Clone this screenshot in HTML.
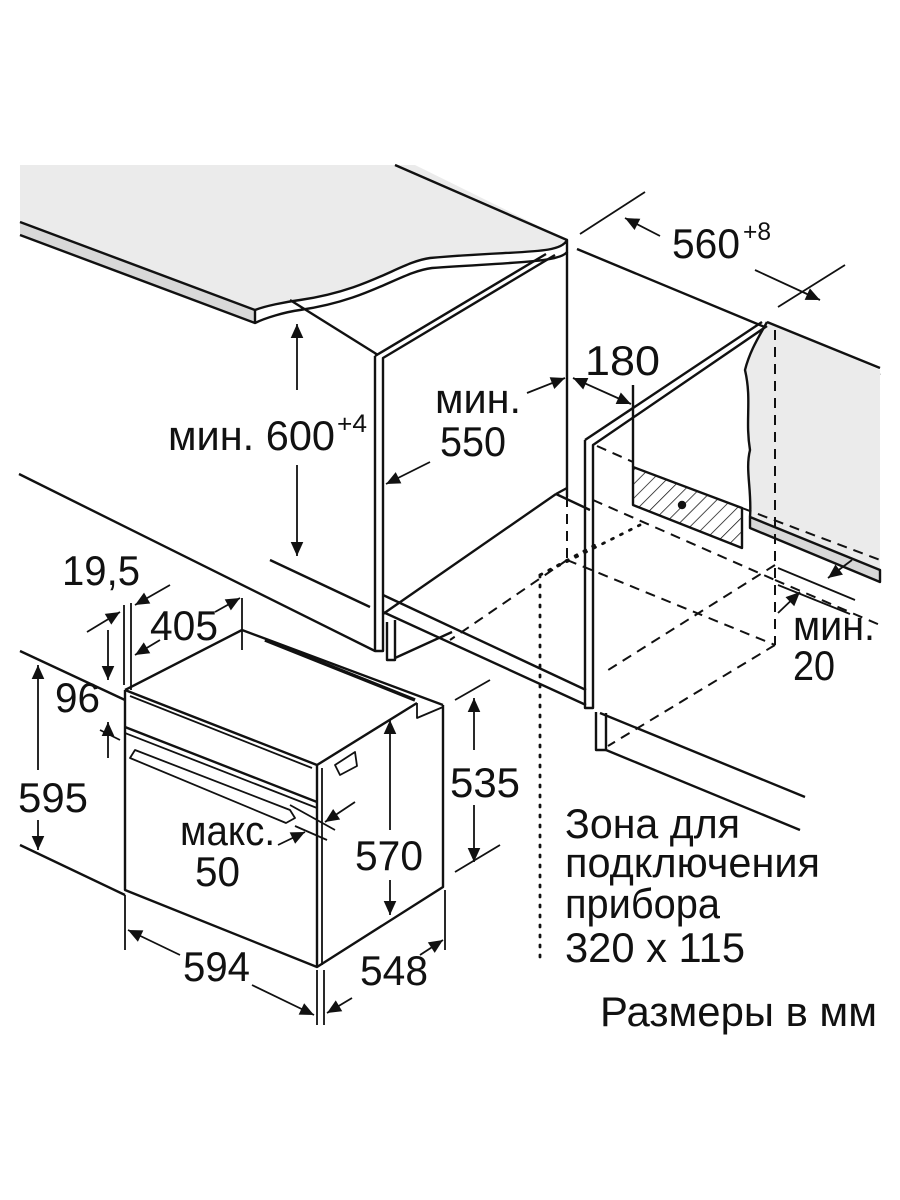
<!DOCTYPE html>
<html><head><meta charset="utf-8"><style>
html,body{margin:0;padding:0;background:#fff;}
svg{display:block;}
text{font-family:"Liberation Sans Narrow","Liberation Sans",sans-serif;fill:#111;}
</style></head><body>
<svg width="900" height="1200" viewBox="0 0 900 1200" xmlns="http://www.w3.org/2000/svg">
<defs>
<marker id="b" viewBox="0 0 10 10" refX="10" refY="5" markerWidth="20" markerHeight="14" orient="auto-start-reverse" markerUnits="userSpaceOnUse"><path d="M0,0.5 L10,5 L0,9.5z" fill="#111"/></marker>
<pattern id="h" width="10" height="10" patternUnits="userSpaceOnUse" patternTransform="rotate(45)"><line x1="0" y1="0" x2="0" y2="10" stroke="#111" stroke-width="1.5"/></pattern>
</defs>
<g stroke="#111" stroke-width="2.4" fill="none" stroke-linejoin="round">
<path d="M20,165 L415,165 L567,240 C560,255 520,250 430,258 C400,262 370,290 300,300 C285,302 265,306 255,310 L20,222 Z" fill="#ebebeb" stroke="none"/>
<path d="M20,222 L255,310 L255,323 L20,235" fill="#d8d8d8"/>
<path d="M255,310 C265,306 285,302 300,300 C370,290 400,262 430,258 C520,250 560,255 567,240 L567,252 C560,262 520,262 432,268 C400,272 370,300 300,310 C285,312 265,318 255,323"/>
<line x1="395" y1="165" x2="567" y2="240"/>
<line x1="577" y1="249" x2="880" y2="375"/>
<path d="M767,322 L880,370 L880,570 L750,517 C752,490 745,470 750,450 C745,420 752,400 745,370 C750,350 760,335 767,322Z" fill="#ebebeb" stroke="none"/>
<path d="M767,322 C760,335 750,350 745,370 C752,400 745,420 750,450 C745,470 752,490 750,517"/>
<line x1="767" y1="322" x2="880" y2="368"/>
<path d="M750,517 L880,570 L880,582 L750,528Z" fill="#d8d8d8"/>
<line x1="290" y1="300" x2="378" y2="355"/>
<path d="M375,356 L375,651 L383,651 L383,358 L555,255" />
<line x1="375" y1="356" x2="546" y2="254"/>
<line x1="567" y1="252" x2="567" y2="497"/>
<line x1="383" y1="614" x2="556" y2="494"/>
<line x1="556" y1="494" x2="567" y2="488"/>
<line x1="556" y1="494" x2="590" y2="510"/>
<line x1="383" y1="595" x2="586" y2="690"/>
<line x1="383" y1="612" x2="586" y2="705"/>
<path d="M387,622 L387,660 L395,660 L395,620"/>
<line x1="395" y1="658" x2="452" y2="632"/>
<line x1="19" y1="474" x2="375" y2="651"/>
<line x1="270" y1="560" x2="370" y2="607"/>
<line x1="20" y1="651" x2="125" y2="700"/>
<line x1="20" y1="845" x2="125" y2="895"/>
<line x1="600" y1="713" x2="805" y2="797"/>
<line x1="606" y1="750" x2="800" y2="830"/>
<path d="M596,712 L596,750 L606,750 L606,713"/>
<path d="M585,440 L585,708 L593,708 L593,445 L767,326"/>
<line x1="585" y1="440" x2="762" y2="322"/>
<path d="M633,467 L742,508 L742,548 L633,505Z" fill="url(#h)"/>
<line x1="633" y1="385" x2="633" y2="467"/>
<circle cx="682" cy="505" r="3" fill="#111"/>
<g stroke-dasharray="10,7" stroke-width="2">
<line x1="775" y1="330" x2="775" y2="645"/>
<line x1="567" y1="497" x2="567" y2="560"/>
<line x1="597" y1="446" x2="633" y2="462"/>
<line x1="742" y1="508" x2="880" y2="560"/>
<line x1="593" y1="500" x2="775" y2="580"/>
<line x1="775" y1="580" x2="880" y2="625"/>
<line x1="567" y1="560" x2="775" y2="645"/>
<line x1="567" y1="560" x2="450" y2="640"/>
<line x1="775" y1="565" x2="605" y2="672"/>
<line x1="775" y1="645" x2="608" y2="746"/>
</g>
<g stroke-dasharray="2,8" stroke-width="2.8" stroke-linecap="round">
<line x1="540" y1="575" x2="540" y2="960"/>
<line x1="540" y1="575" x2="595" y2="545"/>
<line x1="540" y1="575" x2="640" y2="525"/>
</g>
<g stroke-width="1.8">
<line x1="778" y1="568" x2="855" y2="600"/>
<line x1="778" y1="585" x2="850" y2="614"/>
<line x1="852" y1="560" x2="828" y2="578" marker-end="url(#b)"/>
<line x1="778" y1="613" x2="800" y2="592" marker-end="url(#b)"/>
<line x1="580" y1="234" x2="645" y2="192"/>
<line x1="778" y1="307" x2="845" y2="265"/>
<line x1="660" y1="236" x2="625" y2="218" marker-end="url(#b)"/>
<line x1="755" y1="270" x2="820" y2="300" marker-end="url(#b)"/>
<line x1="573" y1="378" x2="631" y2="404" marker-start="url(#b)" marker-end="url(#b)"/>
<line x1="527" y1="393" x2="565" y2="378" marker-end="url(#b)"/>
<line x1="430" y1="462" x2="386" y2="484" marker-end="url(#b)"/>
<line x1="297" y1="390" x2="297" y2="324" marker-end="url(#b)"/>
<line x1="297" y1="465" x2="297" y2="556" marker-end="url(#b)"/>
</g>
<path d="M125,690 L125,890 L317,967 L443,887 L443,705"/>
<path d="M125,690 L242,630 L443,705"/>
<path d="M125,690 L317,765 L317,967"/>
<line x1="130" y1="696" x2="312" y2="768" stroke-width="1.8"/>
<line x1="322" y1="768" x2="322" y2="965" stroke-width="1.8"/>
<line x1="317" y1="765" x2="417" y2="703"/>
<path d="M417,703 L417,718 L443,707" stroke-width="1.8"/>
<line x1="265" y1="640" x2="415" y2="700" stroke-width="3.5"/>
<line x1="125" y1="727" x2="317" y2="802" stroke-width="2.4"/>
<line x1="125" y1="733" x2="317" y2="808" stroke-width="1.8"/>
<path d="M135,750 L290,810 L295,818 L286,823 L130,758 Z" stroke-width="1.8"/>
<path d="M335,765 L355,752 L357,766 L340,775 Z" stroke-width="1.8"/>
<g stroke-width="1.8">
<line x1="124" y1="605" x2="124" y2="685"/>
<line x1="131" y1="603" x2="131" y2="690"/>
<line x1="242" y1="598" x2="242" y2="650"/>
<line x1="87" y1="632" x2="120" y2="612" marker-end="url(#b)"/>
<line x1="170" y1="585" x2="135" y2="605" marker-end="url(#b)"/>
<line x1="160" y1="640" x2="135" y2="655" marker-end="url(#b)"/>
<line x1="215" y1="612" x2="240" y2="598" marker-end="url(#b)"/>
<line x1="108" y1="630" x2="108" y2="680" marker-end="url(#b)"/>
<line x1="108" y1="758" x2="108" y2="722" marker-end="url(#b)"/>
<line x1="100" y1="730" x2="120" y2="740"/>
<line x1="38" y1="770" x2="38" y2="665" marker-end="url(#b)"/>
<line x1="38" y1="820" x2="38" y2="850" marker-end="url(#b)"/>
<line x1="455" y1="700" x2="490" y2="680"/>
<line x1="455" y1="872" x2="500" y2="845"/>
<line x1="474" y1="750" x2="474" y2="698" marker-end="url(#b)"/>
<line x1="474" y1="805" x2="474" y2="862" marker-end="url(#b)"/>
<line x1="390" y1="830" x2="390" y2="720" marker-end="url(#b)"/>
<line x1="390" y1="880" x2="390" y2="915" marker-end="url(#b)"/>
<line x1="290" y1="805" x2="335" y2="830"/>
<line x1="295" y1="826" x2="327" y2="840"/>
<line x1="355" y1="802" x2="325" y2="822" marker-end="url(#b)"/>
<line x1="278" y1="845" x2="305" y2="832" marker-end="url(#b)"/>
<line x1="125" y1="895" x2="125" y2="950"/>
<line x1="317" y1="970" x2="317" y2="1025"/>
<line x1="324" y1="970" x2="324" y2="1025"/>
<line x1="445" y1="890" x2="445" y2="950"/>
<line x1="180" y1="955" x2="128" y2="930" marker-end="url(#b)"/>
<line x1="252" y1="985" x2="314" y2="1015" marker-end="url(#b)"/>
<line x1="352" y1="998" x2="327" y2="1013" marker-end="url(#b)"/>
<line x1="420" y1="955" x2="443" y2="940" marker-end="url(#b)"/>
</g>
</g>
<g font-size="42">
<text x="672" y="258" textLength="68" lengthAdjust="spacingAndGlyphs">560</text>
<text x="743" y="240" font-size="25" textLength="28" lengthAdjust="spacingAndGlyphs">+8</text>
<text x="585" y="375" textLength="75" lengthAdjust="spacingAndGlyphs">180</text>
<text x="435" y="413" textLength="86" lengthAdjust="spacingAndGlyphs">мин.</text>
<text x="440" y="456" textLength="66" lengthAdjust="spacingAndGlyphs">550</text>
<text x="168" y="450" textLength="167" lengthAdjust="spacingAndGlyphs">мин. 600</text>
<text x="337" y="432" font-size="25" textLength="30" lengthAdjust="spacingAndGlyphs">+4</text>
<text x="62" y="585" textLength="78" lengthAdjust="spacingAndGlyphs">19,5</text>
<text x="150" y="640" textLength="68" lengthAdjust="spacingAndGlyphs">405</text>
<text x="55" y="712" textLength="45" lengthAdjust="spacingAndGlyphs">96</text>
<text x="18" y="812" textLength="70" lengthAdjust="spacingAndGlyphs">595</text>
<text x="450" y="797" textLength="70" lengthAdjust="spacingAndGlyphs">535</text>
<text x="180" y="845" textLength="95" lengthAdjust="spacingAndGlyphs">макс.</text>
<text x="195" y="886" textLength="45" lengthAdjust="spacingAndGlyphs">50</text>
<text x="355" y="870" textLength="68" lengthAdjust="spacingAndGlyphs">570</text>
<text x="183" y="981" textLength="67" lengthAdjust="spacingAndGlyphs">594</text>
<text x="360" y="985" textLength="68" lengthAdjust="spacingAndGlyphs">548</text>
<text x="793" y="640" textLength="82" lengthAdjust="spacingAndGlyphs">мин.</text>
<text x="793" y="680" textLength="42" lengthAdjust="spacingAndGlyphs">20</text>
<text x="565" y="838" textLength="175" lengthAdjust="spacingAndGlyphs">Зона для</text>
<text x="565" y="877" textLength="255" lengthAdjust="spacingAndGlyphs">подключения</text>
<text x="565" y="918" textLength="155" lengthAdjust="spacingAndGlyphs">прибора</text>
<text x="565" y="962" textLength="180" lengthAdjust="spacingAndGlyphs">320 x 115</text>
<text x="600" y="1026" textLength="277" lengthAdjust="spacingAndGlyphs">Размеры в мм</text>
</g>
</svg>
</body></html>
